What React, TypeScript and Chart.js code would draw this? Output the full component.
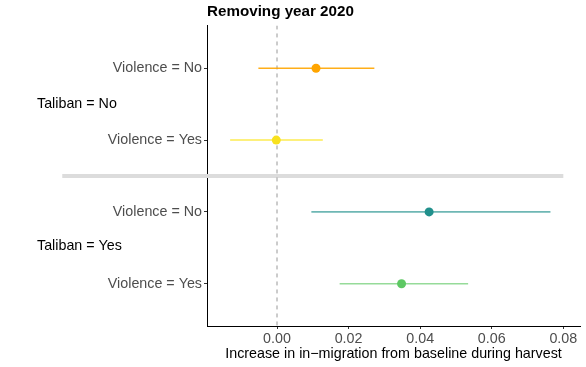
import React, { useEffect, useRef } from "react";
import { Chart, registerables } from "chart.js";

Chart.register(...registerables);

// ---- data ----
const rowLabels = ["Violence = No", "Violence = Yes", "Violence = No", "Violence = Yes"];
const rowPositions = [1, 2, 3, 4];
const groupLabels = ["Taliban = No", "Taliban = Yes"];
const groupPositions = [1.5, 3.47];
const estimates = [0.0109, -0.0002, 0.0425, 0.0348];
const lowerBounds = [-0.0052, -0.0131, 0.0096, 0.0175];
const upperBounds = [0.0272, 0.0128, 0.0764, 0.0534];
const xTicks = [0, 0.02, 0.04, 0.06, 0.08];
const separatorPosition = 2.5;
const separatorExtent = [-0.06, 0.08];
const referenceValue = 0;
const xRange = [-0.01956, 0.08466];
const yRange = [0.404, 4.589];

// ---- styles ----
const pointColors = ["#FFA500", "#F8E11E", "#21908C", "#5DC863"];
const lineColors = ["rgba(255,165,0,0.9)", "rgba(253,231,37,0.8)", "rgba(33,144,140,0.65)", "rgba(93,200,99,0.65)"];
const FONT = "'Liberation Sans', Arial, Helvetica, sans-serif";
const FS = 14.3;

const groupLabelPlugin = {
  id: "groupLabels",
  afterDraw(chart: any) {
    const ctx = chart.ctx;
    const y = chart.scales.y;
    ctx.save();
    ctx.font = `${FS}px ${FONT}`;
    ctx.fillStyle = "#000000";
    ctx.textAlign = "left";
    ctx.textBaseline = "middle";
    groupLabels.forEach((lab, i) => {
      ctx.fillText(lab, 37, y.getPixelForValue(groupPositions[i]));
    });
    ctx.restore();
  },
};

export default function App() {
  const ref = useRef<HTMLCanvasElement | null>(null);

  useEffect(() => {
    if (!ref.current) return;
    const datasets: any[] = [];
    // points (drawn on top -> first)
    datasets.push({
      label: "estimates",
      data: estimates.map((v, i) => ({ x: v, y: rowPositions[i] })),
      backgroundColor: pointColors,
      borderWidth: 0,
      pointRadius: 4.5,
      showLine: false,
    });
    // error bars
    estimates.forEach((_, i) => {
      datasets.push({
        label: "ci" + i,
        data: [
          { x: lowerBounds[i], y: rowPositions[i] },
          { x: upperBounds[i], y: rowPositions[i] },
        ],
        borderColor: lineColors[i],
        borderWidth: 1.6,
        pointRadius: 0,
        showLine: true,
      });
    });
    // reference dashed line
    datasets.push({
      label: "zero",
      data: [
        { x: referenceValue, y: yRange[0] },
        { x: referenceValue, y: yRange[1] },
      ],
      borderColor: "#999999",
      borderWidth: 1,
      borderDash: [4, 4],
      pointRadius: 0,
      showLine: true,
    });
    // separator
    datasets.push({
      label: "sep",
      data: [
        { x: separatorExtent[0], y: separatorPosition },
        { x: separatorExtent[1], y: separatorPosition },
      ],
      borderColor: "#DCDCDC",
      borderWidth: 4,
      pointRadius: 0,
      showLine: true,
      clip: false,
    });

    const chart = new Chart(ref.current, {
      type: "scatter",
      data: { datasets },
      options: {
        animation: false,
        responsive: false,
        maintainAspectRatio: false,
        layout: { padding: { left: 0, right: 6, top: 0, bottom: 0 } },
        plugins: {
          legend: { display: false },
          tooltip: { enabled: false },
          title: {
            display: true,
            text: "Removing year 2020",
            align: "start",
            fullSize: false,
            color: "#000000",
            font: { family: FONT, size: 15.2, weight: "bold" },
            padding: { top: 3, bottom: 4.2 },
          },
        },
        scales: {
          x: {
            type: "linear",
            min: xRange[0],
            max: xRange[1],
            afterBuildTicks: (s: any) => {
              s.ticks = xTicks.map((v) => ({ value: v }));
            },
            afterFit: (s: any) => {
              s.height = 41;
            },
            ticks: {
              color: "#4D4D4D",
              font: { family: FONT, size: FS },
              padding: 1,
              maxRotation: 0,
              autoSkip: false,
              callback: (v: any) => Number(v).toFixed(2),
            },
            grid: { display: true, drawOnChartArea: false, drawTicks: true, tickLength: 3, color: "#333333" },
            border: { display: true, color: "#000000", width: 1 },
            title: {
              display: true,
              text: "Increase in in\u2212migration from baseline during harvest",
              color: "#000000",
              font: { family: FONT, size: FS },
              padding: { top: 0, bottom: 4 },
            },
          },
          y: {
            type: "linear",
            reverse: true,
            min: yRange[0],
            max: yRange[1],
            z: 1,
            afterBuildTicks: (s: any) => {
              s.ticks = rowPositions.map((v) => ({ value: v }));
            },
            afterFit: (s: any) => {
              s.width = 207;
            },
            ticks: {
              color: "#4D4D4D",
              font: { family: FONT, size: FS },
              padding: 2,
              autoSkip: false,
              callback: (v: any) => {
                const idx = rowPositions.indexOf(Number(v));
                return idx >= 0 ? rowLabels[idx] : "";
              },
            },
            grid: { display: true, drawOnChartArea: false, drawTicks: true, tickLength: 3, color: "#333333" },
            border: { display: true, color: "#000000", width: 1 },
          },
        },
      },
      plugins: [groupLabelPlugin],
    } as any);
    return () => chart.destroy();
  }, []);

  return (
    <div style={{ position: "absolute", left: 0, top: 0, width: 586, height: 367, background: "#ffffff" }}>
      <canvas ref={ref} width={586} height={367} style={{ display: "block", width: 586, height: 367 }} />
    </div>
  );
}
